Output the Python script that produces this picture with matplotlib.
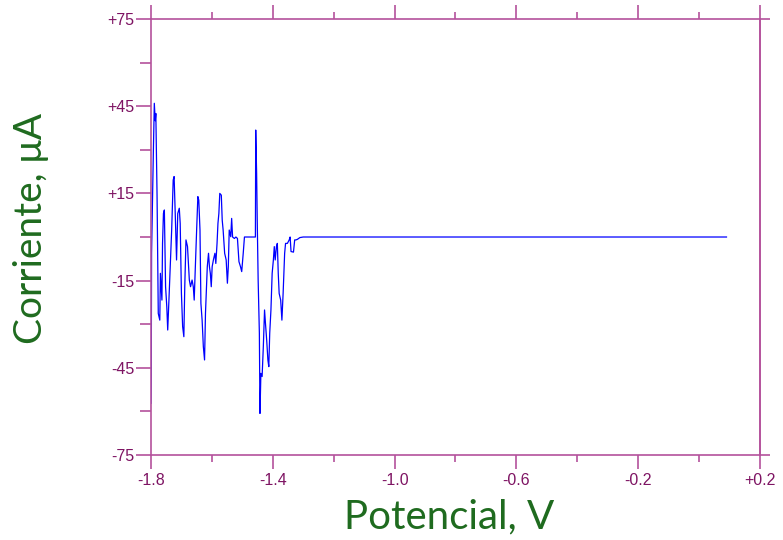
import matplotlib
matplotlib.use("Agg")
import matplotlib.pyplot as plt
from matplotlib.ticker import FixedLocator, FuncFormatter

# Potencial (V) y corriente (uA)
potencial = [-1.800, -1.799, -1.798, -1.792, -1.789, -1.786, -1.784, -1.780, -1.776, -1.771,
             -1.769, -1.764, -1.762, -1.759, -1.756, -1.752, -1.748, -1.745, -1.741, -1.735,
             -1.732, -1.727, -1.724, -1.720, -1.716, -1.712, -1.707, -1.704, -1.700, -1.696,
             -1.692, -1.689, -1.685, -1.680, -1.677, -1.674, -1.670, -1.665, -1.661, -1.658,
             -1.655, -1.650, -1.646, -1.643, -1.639, -1.636, -1.632, -1.628, -1.624, -1.621,
             -1.618, -1.615, -1.611, -1.608, -1.605, -1.602, -1.599, -1.595, -1.590, -1.587,
             -1.583, -1.580, -1.577, -1.574, -1.569, -1.566, -1.563, -1.558, -1.553, -1.549,
             -1.546, -1.543, -1.538, -1.535, -1.532, -1.526, -1.521, -1.516, -1.511, -1.506,
             -1.502, -1.497, -1.493, -1.488, -1.457, -1.456, -1.453, -1.451, -1.448, -1.444,
             -1.442, -1.439, -1.435, -1.431, -1.427, -1.424, -1.420, -1.416, -1.413, -1.410,
             -1.406, -1.402, -1.398, -1.395, -1.392, -1.388, -1.385, -1.382, -1.379, -1.374,
             -1.370, -1.366, -1.361, -1.358, -1.352, -1.346, -1.343, -1.340, -1.332, -1.328,
             -1.324, -1.319, -1.311, -1.300, 0.09]
corriente = [-57.2, -47.5, -5.6, 30.0, 46.0, 40.0, 42.5, 14.4, -26.3, -28.6,
             -12.5, -21.7, -2.2, 8.1, 9.3, -17.1, -24.0, -32.0, -21.7, -5.6,
             2.4, 19.6, 20.8, 7.0, -7.9, 8.1, 9.9, 4.7, -19.4, -30.8,
             -34.3, -17.1, -1.0, -3.3, -9.1, -14.8, -17.1, -14.8, -17.1, -21.7,
             -12.5, 2.4, 13.9, 12.7, 2.4, -22.8, -28.6, -37.7, -42.3, -26.3,
             -18.2, -10.2, -5.6, -10.2, -12.5, -17.1, -10.2, -7.9, -5.6, -9.1,
             -2.2, 4.7, 8.1, 15.0, 14.4, 5.8, 2.4, -5.6, -7.9, -15.9,
             -10.2, 2.4, 0.1, 6.4, 0.0, -0.5, 0.0, -0.5, -8.5, -10.2,
             -11.9, -5.6, 0.0, 0.0, 0.0, 36.8, 21.9, 5.8, -14.8, -33.1,
             -60.7, -46.9, -48.0, -37.7, -25.1, -29.7, -35.4, -42.3, -44.6, -33.1,
             -25.1, -12.5, -7.9, -3.3, -7.9, -3.3, -2.2, -12.5, -19.4, -21.7,
             -28.6, -19.4, -5.6, -2.2, -2.2, -1.0, 0.0, -5.0, -5.2, -1.0,
             -1.0, -0.8, -0.2, 0.0, 0.0]

# ticks
x_major = [-1.8, -1.4, -1.0, -0.6, -0.2, 0.2]
x_minor = [-1.6, -1.2, -0.8, -0.4, 0.0]
y_major = [-75, -45, -15, 15, 45, 75]
y_minor = [-60, -30, 0, 30, 60]

axis_color = '#b4529c'
label_color = '#7e1463'
title_color = '#1f6b1f'
tick_font = ['Liberation Sans', 'DejaVu Sans']
title_font = ['Lato', 'DejaVu Sans']

fig = plt.figure(figsize=(7.83, 5.40), dpi=100)
ax = fig.add_axes([0.1928, 0.1574, 0.7778, 0.8074])

ax.plot(potencial, corriente, color='#0000ff', linewidth=0.9)

ax.set_xlim(-1.8, 0.2)
ax.set_ylim(-75, 75)
ax.xaxis.set_major_locator(FixedLocator(x_major))
ax.xaxis.set_minor_locator(FixedLocator(x_minor))
ax.yaxis.set_major_locator(FixedLocator(y_major))
ax.yaxis.set_minor_locator(FixedLocator(y_minor))

# etiquetas con signo + (como en el original)
ax.xaxis.set_major_formatter(FuncFormatter(lambda v, p: '%+.1f' % v))
ax.yaxis.set_major_formatter(FuncFormatter(lambda v, p: '%+d' % round(v) if v > 0 else '%d' % round(v)))

for s in ax.spines.values():
    s.set_color(axis_color)
    s.set_linewidth(1.2)

ax.tick_params(axis='both', which='both', direction='out', color=axis_color,
               labelcolor=label_color, labelsize=11.5, width=1.2)
ax.tick_params(axis='x', which='major', length=10, top=True, pad=3)
ax.tick_params(axis='x', which='minor', length=5, top=True)
ax.tick_params(axis='y', which='major', length=11, pad=1)
ax.tick_params(axis='y', which='minor', length=8)
for t in ax.get_xticklabels() + ax.get_yticklabels():
    t.set_family(tick_font)

# marcas en las esquinas del eje derecho
sec = ax.secondary_yaxis('right')
sec.set_yticks([-75, 75])
sec.tick_params(length=7, width=1.2, color=axis_color, labelright=False)
sec.spines['right'].set_color(axis_color)
sec.spines['right'].set_linewidth(1.2)

ax.set_xlabel('Potencial, V', fontsize=29, color=title_color, family=title_font)
ax.set_ylabel('Corriente, μA', fontsize=28, color=title_color, family=title_font)
ax.xaxis.label.set_va('center')
ax.yaxis.label.set_va('center')
ax.xaxis.set_label_coords(0.49, -0.142)
ax.yaxis.set_label_coords(-0.197, 0.52)

plt.savefig('out.png', dpi=100)
